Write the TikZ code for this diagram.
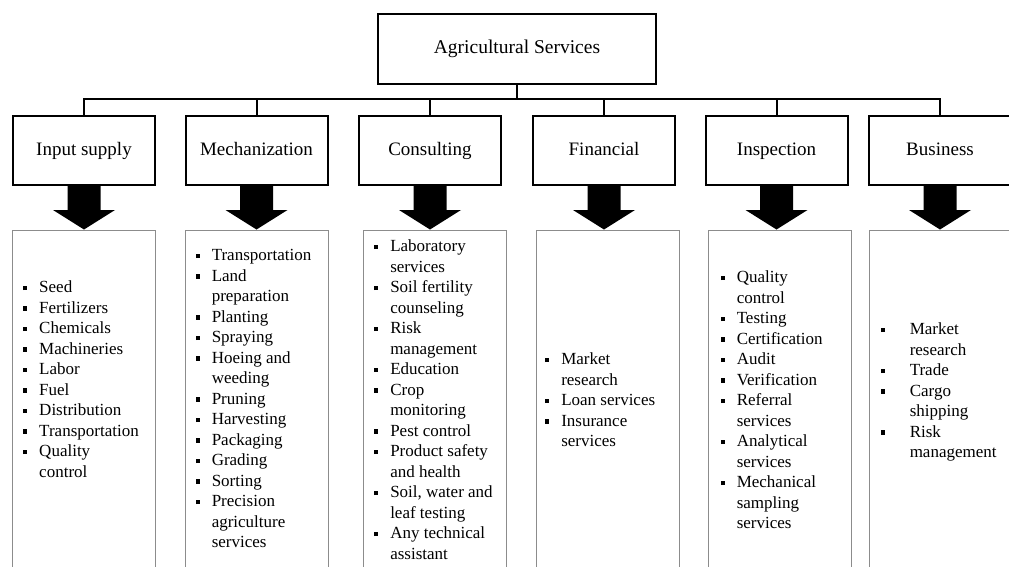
\documentclass[tikz,border=0pt]{standalone}
\usepackage{fontspec}
\setmainfont{Liberation Serif}
\usetikzlibrary{positioning,calc}

\newlength{\bind}
\setlength{\bind}{16pt}
\newcommand{\itm}[1]{\makebox[\bind][l]{\raisebox{2.6pt}{\rule{4.2pt}{4.2pt}}}#1}
\newcommand{\cnt}[1]{\hspace*{\bind}#1}

\begin{document}
\begin{tikzpicture}[
    x=1pt, y=-1pt,
    % Node styles
    topbox/.style={
        rectangle,
        draw=black,
        line width=2pt,
        minimum width=278pt,
        minimum height=70pt,
        text height=13.5pt,
        text depth=4pt,
        font=\fontsize{19.5}{23}\selectfont
    },
    catbox/.style={
        rectangle,
        draw=black,
        line width=2pt,
        fill=white,
        minimum width=142pt,
        minimum height=69pt,
        text height=13pt,
        text depth=4pt,
        font=\fontsize{19}{23}\selectfont
    },
    listbox/.style={
        rectangle,
        draw=black!45,
        line width=0.9pt,
        minimum width=143pt,
        minimum height=360pt,
        anchor=north
    },
    listtext/.style={
        inner sep=0pt,
        anchor=north west,
        align=left,
        font=\fontsize{17}{20.5}\selectfont
    },
    wideindent/.style={
        /utils/exec={\setlength{\bind}{29pt}}
    },
    busline/.style={
        line width=2pt,
        line join=miter
    },
    blockarrow/.style={
        fill=black
    }
]

\clip (0,0) rectangle (1009,566);

% ===== Root =====

\node[topbox] (root) at (517, 49) {Agricultural Services};
\coordinate (hub) at (517, 99);

% ===== Category boxes =====

\node[catbox] (inp)  at (84, 150.5)    {Input supply};
\node[catbox] (mech) at (256.5, 150.5) {Mechanization};
\node[catbox] (cons) at (430, 150.5)   {Consulting};
\node[catbox] (fin)  at (604, 150.5)   {Financial};
\node[catbox] (insp) at (776.5, 150.5) {Inspection};
\node[catbox] (bus)  at (940, 150.5)   {Business};

% ===== Tree lines =====

\draw[busline] (root.south) -- (hub);
\draw[busline] (inp.north) |- (hub);
\draw[busline] (mech.north) -- (mech.north |- hub);
\draw[busline] (cons.north) -- (cons.north |- hub);
\draw[busline] (fin.north) -- (fin.north |- hub);
\draw[busline] (insp.north) -- (insp.north |- hub);
\draw[busline] (bus.north) |- (hub);

% ===== List boxes =====

\node[listbox] (inpL)  at (84, 229.5)    {};
\node[listbox] (mechL) at (256.5, 229.5) {};
\node[listbox] (consL) at (435, 229.5)   {};
\node[listbox] (finL)  at (608, 229.5)   {};
\node[listbox] (inspL) at (779.5, 229.5) {};
\node[listbox] (busL)  at (940.5, 229.5) {};

% ===== Block arrows =====

\fill[blockarrow] ($(inp.south)+(-16.5,0)$) -- ++(0,24) -- ++(-14.5,0)
    -- (inp.south |- inpL.north) -- ($(inp.south)+(31,24)$) -- ++(-14.5,0) -- ++(0,-24) -- cycle;
\fill[blockarrow] ($(mech.south)+(-16.5,0)$) -- ++(0,24) -- ++(-14.5,0)
    -- (mech.south |- mechL.north) -- ($(mech.south)+(31,24)$) -- ++(-14.5,0) -- ++(0,-24) -- cycle;
\fill[blockarrow] ($(cons.south)+(-16.5,0)$) -- ++(0,24) -- ++(-14.5,0)
    -- (cons.south |- consL.north) -- ($(cons.south)+(31,24)$) -- ++(-14.5,0) -- ++(0,-24) -- cycle;
\fill[blockarrow] ($(fin.south)+(-16.5,0)$) -- ++(0,24) -- ++(-14.5,0)
    -- (fin.south |- finL.north) -- ($(fin.south)+(31,24)$) -- ++(-14.5,0) -- ++(0,-24) -- cycle;
\fill[blockarrow] ($(insp.south)+(-16.5,0)$) -- ++(0,24) -- ++(-14.5,0)
    -- (insp.south |- inspL.north) -- ($(insp.south)+(31,24)$) -- ++(-14.5,0) -- ++(0,-24) -- cycle;
\fill[blockarrow] ($(bus.south)+(-16.5,0)$) -- ++(0,24) -- ++(-14.5,0)
    -- (bus.south |- busL.north) -- ($(bus.south)+(31,24)$) -- ++(-14.5,0) -- ++(0,-24) -- cycle;

% ===== List texts =====

\node[listtext] (inpT) at ($(inpL.north west)+(11,48.6)$) {%
    \strut\itm{Seed}\\
    \itm{Fertilizers}\\
    \itm{Chemicals}\\
    \itm{Machineries}\\
    \itm{Labor}\\
    \itm{Fuel}\\
    \itm{Distribution}\\
    \itm{Transportation}\\
    \itm{Quality}\\
    \cnt{control}
};

\node[listtext] (mechT) at ($(mechL.north west)+(11,16.6)$) {%
    \strut\itm{Transportation}\\
    \itm{Land}\\
    \cnt{preparation}\\
    \itm{Planting}\\
    \itm{Spraying}\\
    \itm{Hoeing and}\\
    \cnt{weeding}\\
    \itm{Pruning}\\
    \itm{Harvesting}\\
    \itm{Packaging}\\
    \itm{Grading}\\
    \itm{Sorting}\\
    \itm{Precision}\\
    \cnt{agriculture}\\
    \cnt{services}
};

\node[listtext] (consT) at ($(consL.north west)+(11,7.6)$) {%
    \strut\itm{Laboratory}\\
    \cnt{services}\\
    \itm{Soil fertility}\\
    \cnt{counseling}\\
    \itm{Risk}\\
    \cnt{management}\\
    \itm{Education}\\
    \itm{Crop}\\
    \cnt{monitoring}\\
    \itm{Pest control}\\
    \itm{Product safety}\\
    \cnt{and health}\\
    \itm{Soil, water and}\\
    \cnt{leaf testing}\\
    \itm{Any technical}\\
    \cnt{assistant}
};

\node[listtext] (finT) at ($(finL.north west)+(9,120.6)$) {%
    \strut\itm{Market}\\
    \cnt{research}\\
    \itm{Loan services}\\
    \itm{Insurance}\\
    \cnt{services}
};

\node[listtext] (inspT) at ($(inspL.north west)+(13,38.6)$) {%
    \strut\itm{Quality}\\
    \cnt{control}\\
    \itm{Testing}\\
    \itm{Certification}\\
    \itm{Audit}\\
    \itm{Verification}\\
    \itm{Referral}\\
    \cnt{services}\\
    \itm{Analytical}\\
    \cnt{services}\\
    \itm{Mechanical}\\
    \cnt{sampling}\\
    \cnt{services}
};

\node[listtext, wideindent] (busT) at ($(busL.north west)+(12,90.6)$) {%
    \strut\itm{Market}\\
    \cnt{research}\\
    \itm{Trade}\\
    \itm{Cargo}\\
    \cnt{shipping}\\
    \itm{Risk}\\
    \cnt{management}
};

\end{tikzpicture}
\end{document}
